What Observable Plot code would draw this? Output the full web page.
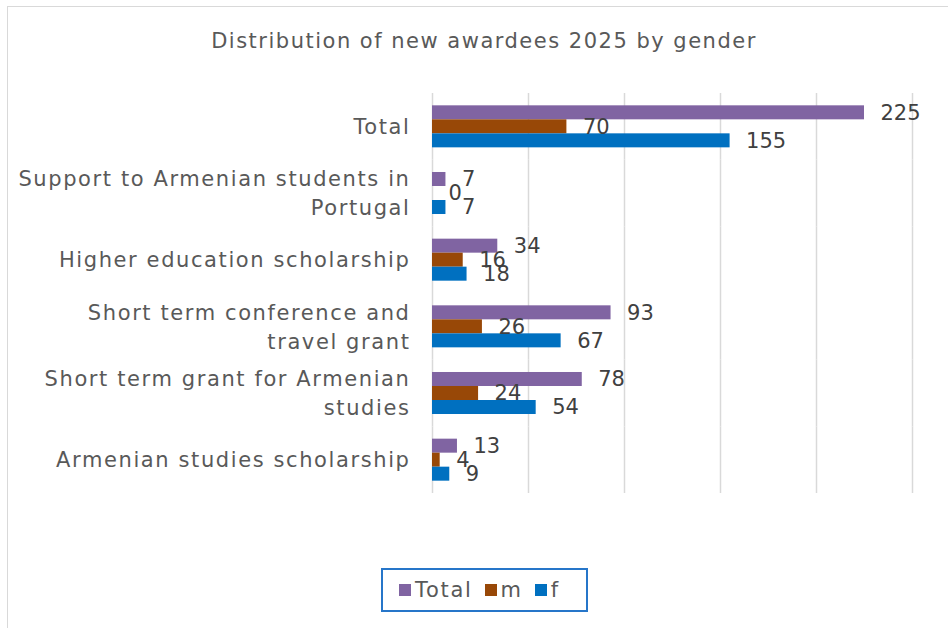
<!DOCTYPE html>
<html>
<head>
<meta charset="utf-8">
<script src="https://cdn.jsdelivr.net/npm/d3@7"></script>
<script src="https://cdn.jsdelivr.net/npm/@observablehq/plot@0.6"></script>
<style>
  html, body { margin: 0; padding: 0; width: 948px; height: 628px; overflow: hidden; background: #fff; font-family: "DejaVu Sans", sans-serif; }
  #frame { position: absolute; left: 7px; top: 6px; width: 960px; height: 640px; border: 1.5px solid #d9d9d9; box-sizing: border-box; }
  #title { position: absolute; left: 0; width: 968px; top: 29px; text-align: center; font-size: 21px; letter-spacing: 1.5px; color: #595959; }
  #chart { position: absolute; left: 0; top: 88px; line-height: 0; }
  #legend { position: absolute; left: 381px; top: 568px; width: 207px; height: 44px; box-sizing: border-box; border: 2px solid #2676c9; display: flex; align-items: center; padding-left: 16px; font-size: 21px; letter-spacing: 1.7px; color: #595959; }
  .item { display: flex; align-items: center; margin-right: 12px; }
  .sw { width: 12px; height: 12px; margin-right: 4px; }
</style>
</head>
<body>
<div id="frame"></div>
<div id="title">Distribution of new awardees 2025 by gender</div>
<div id="chart"></div>
<div id="legend"></div>
<script>
const categories = ["Total", "Support to Armenian students in Portugal", "Higher education scholarship", "Short term conference and travel grant", "Short term grant for Armenian studies", "Armenian studies scholarship"];
const categoryLabels = ["Total", "Support to Armenian students in\nPortugal", "Higher education scholarship", "Short term conference and\ntravel grant", "Short term grant for Armenian\nstudies", "Armenian studies scholarship"];
const series = ["Total", "m", "f"];
const totalValues = [225, 7, 34, 93, 78, 13];
const mValues = [70, 0, 16, 26, 24, 4];
const fValues = [155, 7, 18, 67, 54, 9];
const seriesColors = ["#8064A2", "#984807", "#0070C0"];
const gridTicks = [0, 50, 100, 150, 200, 250];

const valuesBySeries = {Total: totalValues, m: mValues, f: fValues};
const data = [];
categories.forEach((c, i) => {
  series.forEach(s => data.push({category: c, series: s, value: valuesBySeries[s][i]}));
});
const labelOf = new Map(categories.map((c, i) => [c, categoryLabels[i]]));

const chart = Plot.plot({
  width: 948,
  height: 410,
  marginLeft: 432,
  marginRight: 36,
  marginTop: 5,
  marginBottom: 5,
  style: {fontFamily: "DejaVu Sans, sans-serif", background: "transparent"},
  x: {domain: [0, 250], axis: null},
  y: {domain: series, axis: null, paddingInner: 0, paddingOuter: 0.88, round: false},
  fy: {domain: categories, axis: null, padding: 0, round: false},
  color: {domain: series, range: seriesColors},
  marks: [
    Plot.ruleX(gridTicks, {stroke: "#d9d9d9", strokeWidth: 1.5}),
    Plot.barX(data, {fy: "category", y: "series", x: "value", fill: "series", insetTop: 0, insetBottom: 0}),
    Plot.text(data, {fy: "category", y: "series", x: "value", text: d => String(d.value), dx: 16, textAnchor: "start", fontSize: 21, fill: "#404040"}),
    Plot.text(categories, {fy: d => d, text: d => labelOf.get(d), frameAnchor: "left", textAnchor: "end", dx: -22, dy: -2, fontSize: 21, lineHeight: 1.38, fill: "#595959"})
  ]
});
const textGroups = chart.querySelectorAll('g[aria-label="text"]');
if (textGroups.length) textGroups[textGroups.length - 1].style.letterSpacing = "1.6px";
document.getElementById("chart").appendChild(chart);

const legend = document.getElementById("legend");
series.forEach((s, i) => {
  const item = document.createElement("div");
  item.className = "item";
  const sw = document.createElement("div");
  sw.className = "sw";
  sw.style.background = seriesColors[i];
  const t = document.createElement("span");
  t.textContent = s;
  item.appendChild(sw);
  item.appendChild(t);
  legend.appendChild(item);
});
</script>
</body>
</html>
